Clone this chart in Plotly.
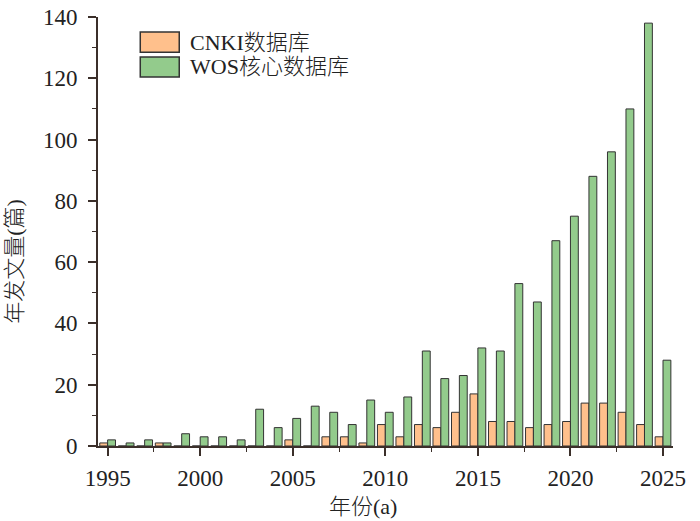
import plotly.graph_objects as go

years = list(range(1995, 2026))
cnki = [1, 0, 0, 1, 0, 0, 0, 0, 0, 0, 2, 0, 3, 3, 1, 7, 3, 7, 6, 11, 17, 8, 8, 6, 7, 8, 14, 14, 11, 7, 3]
wos = [2, 1, 2, 1, 4, 3, 3, 2, 12, 6, 9, 13, 11, 7, 15, 11, 16, 31, 22, 23, 32, 31, 53, 47, 67, 75, 88, 96, 110, 138, 28]
series_names = ["CNKI数据库", "WOS核心数据库"]
series_colors = ["#FFC08C", "#93CB8C"]

font_main = "Liberation Serif, Times New Roman, Noto Sans CJK SC, serif"
axis_color = "#3b2f2a"
edge_color = "#333333"
text_font = dict(size=22, color="#222222", weight=300)

fig = go.Figure()
for name, vals, col in zip(series_names, [cnki, wos], series_colors):
    fig.add_trace(go.Bar(x=years, y=vals, name=name, showlegend=False,
                         marker=dict(color=col, line=dict(color=edge_color, width=1))))

# legend drawn by hand so the swatches can be large like the original
for i, (name, col) in enumerate(zip(series_names, series_colors)):
    y_top = 0.965 - i * 0.058
    fig.add_shape(type="rect", xref="paper", yref="paper",
                  x0=0.0735, x1=0.1413, y0=y_top - 0.047, y1=y_top,
                  fillcolor=col, line=dict(color=edge_color, width=1.5))
    fig.add_annotation(text=name, xref="paper", yref="paper", x=0.157, y=y_top - 0.0235,
                       xanchor="left", yanchor="middle", showarrow=False, font=text_font)

fig.add_annotation(text="年份(a)", xref="paper", yref="paper", x=0.461, y=-0.142,
                   xanchor="center", yanchor="middle", showarrow=False, font=text_font)
fig.add_annotation(text="年发文量(篇)", xref="paper", yref="paper", x=-0.1455, y=0.43,
                   xanchor="center", yanchor="middle", showarrow=False, textangle=-90,
                   font=text_font)

fig.update_layout(
    width=700, height=521,
    margin=dict(l=97.7, r=27, t=17, b=75),
    barmode="group", bargap=0.15, bargroupgap=0,
    plot_bgcolor="white", paper_bgcolor="white",
    font=dict(family=font_main, size=23, color="#222222"),
    xaxis=dict(range=[1994.48, 2025.54], tickmode="linear", tick0=1995, dtick=5,
               showline=True, linecolor=axis_color, linewidth=1.8,
               ticks="outside", ticklen=8, tickcolor=axis_color, tickwidth=1.5,
               ticklabelstandoff=2,
               minor=dict(ticks="outside", dtick=2.5, tick0=1995, ticklen=4,
                          tickcolor=axis_color, tickwidth=1.2),
               showgrid=False, zeroline=False, automargin=False),
    yaxis=dict(range=[0, 140], tickmode="linear", tick0=0, dtick=20,
               showline=True, linecolor=axis_color, linewidth=1.8,
               ticks="outside", ticklen=8, tickcolor=axis_color, tickwidth=1.5,
               ticklabelstandoff=6,
               minor=dict(ticks="outside", dtick=10, ticklen=4,
                          tickcolor=axis_color, tickwidth=1.2),
               showgrid=False, zeroline=False, automargin=False),
)

# drop the browser's default 8px body margin so the figure sits at the page corner
fig.write_html("out.html", config={"displayModeBar": False},
               post_script="document.body.style.margin='0px';")
